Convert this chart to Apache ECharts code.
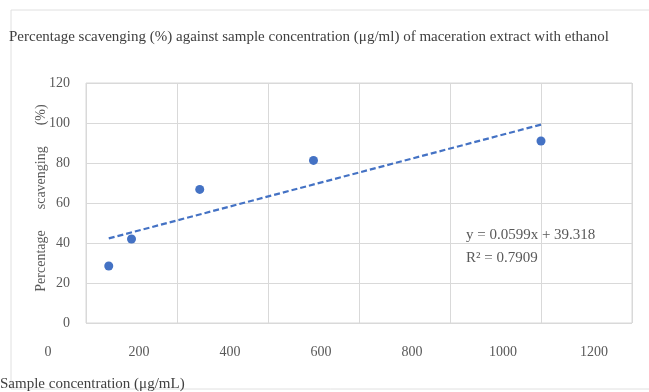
<!DOCTYPE html>
<html><head><meta charset="utf-8">
<script src="https://cdn.jsdelivr.net/npm/echarts@6/dist/echarts.min.js"></script>
<style>html,body{margin:0;padding:0;background:#fff}#c{width:649px;height:392px}</style>
</head><body><div id="c"></div>
<script>
const concentrations = [50, 100, 250, 500, 1000];
const scavenging = [28.5, 42, 66.8, 81.3, 91];
const trendX = [50, 1000];
const trendY = [42.3, 99.2];
const xTicks = ['0', '200', '400', '600', '800', '1000', '1200'];
const yTicks = ['0', '20', '40', '60', '80', '100', '120'];
const titleText = 'Percentage scavenging (%) against sample concentration (\u03bcg/ml) of maceration extract with ethanol';
const xName = 'Sample concentration (\u03bcg/mL)';
const yName = 'Percentage      scavenging      (%)';
const eqText = 'y = 0.0599x + 39.318';
const r2Text = 'R\u00b2 = 0.7909';

const serif = '"Liberation Serif", "DejaVu Serif", serif';
const chart = echarts.init(document.getElementById('c'));
const border = { type: 'rect', shape: { x: 11, y: 10, width: 700, height: 379 }, style: { fill: 'none', stroke: '#e0e0e0', lineWidth: 1 }, silent: true, z: -1 };
chart.setOption({
  animation: false,
  backgroundColor: '#fff',
  title: { text: titleText, left: 4, top: 25,
    textStyle: { fontFamily: serif, fontSize: 15, fontWeight: 'normal', color: '#404040' } },
  grid: { left: 86, right: 17, top: 83, bottom: 69, show: true, borderColor: '#d9d9d9', borderWidth: 1, containLabel: false, outerBoundsMode: 'none' },
  xAxis: { type: 'value', min: 0, max: 1200, interval: 200,
    axisLine: { show: false }, axisTick: { show: false },
    splitLine: { lineStyle: { color: '#d9d9d9' } },
    axisLabel: { margin: 22, padding: [0, 76, 0, 0], fontFamily: serif, fontSize: 14, color: '#595959',
      formatter: (v) => xTicks[Math.round(v / 200)] },
    name: xName, nameLocation: 'start', nameGap: 0, nameMoveOverlap: false,
    nameTextStyle: { fontFamily: serif, fontSize: 15, color: '#404040', align: 'left', verticalAlign: 'top', padding: [54, 0, 0, -86] } },
  yAxis: { type: 'value', min: 0, max: 120, interval: 20,
    axisLine: { show: false }, axisTick: { show: false },
    splitLine: { lineStyle: { color: '#d9d9d9' } },
    axisLabel: { margin: 16, fontFamily: serif, fontSize: 14, color: '#595959',
      formatter: (v) => yTicks[Math.round(v / 20)] },
    name: yName, nameLocation: 'middle', nameGap: 38, nameRotate: 90, nameMoveOverlap: false,
    nameTextStyle: { fontFamily: serif, fontSize: 14, color: '#595959', padding: [0, 0, 0, 10] } },
  graphic: [border],
  series: [
    { type: 'scatter', data: concentrations.map((x, i) => [x, scavenging[i]]), symbolSize: 9,
      itemStyle: { color: '#4472C4', opacity: 1 } },
    { type: 'line', data: trendX.map((x, i) => [x, trendY[i]]), symbol: 'none',
      lineStyle: { color: '#4472C4', width: 2.2, type: [6, 3] } }
  ]
});
const p = chart.convertToPixel({ gridIndex: 0 }, [835, 49.5]);
chart.setOption({ graphic: [border,
  { type: 'text', x: p[0], y: p[1], style: { text: eqText + '\n' + r2Text, font: '15px ' + serif, fill: '#595959', lineHeight: 23, textVerticalAlign: 'top' }, z: 10 }
] });
</script></body></html>
